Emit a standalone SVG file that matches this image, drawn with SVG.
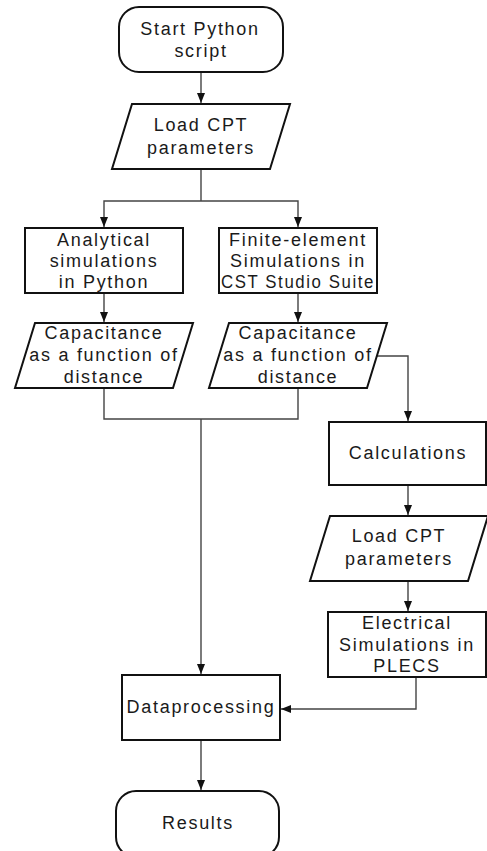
<svg xmlns="http://www.w3.org/2000/svg" width="487" height="851" viewBox="0 0 487 851">
<style>
.shape{fill:#fff;stroke:#111;stroke-width:2}
.conn{fill:none;stroke:#444;stroke-width:1.4}
text{font-family:"Liberation Sans",Arial,sans-serif;font-size:18px;letter-spacing:1.7px;fill:#1a1a1a;text-anchor:middle}
</style>
<defs>
<marker id="ah" markerUnits="userSpaceOnUse" markerWidth="10" markerHeight="8" refX="10" refY="4" orient="auto">
<path d="M0,0 L10,4 L0,8 z" fill="#111"/>
</marker>
</defs>
<rect width="487" height="851" fill="#fff"/>
<g id="connectors">
<path class="conn" d="M201,72 V103" marker-end="url(#ah)"/>
<path class="conn" d="M201,169 V201"/>
<path class="conn" d="M201,201 H104 V227" marker-end="url(#ah)"/>
<path class="conn" d="M201,201 H298 V227" marker-end="url(#ah)"/>
<path class="conn" d="M104,293 V322" marker-end="url(#ah)"/>
<path class="conn" d="M298,293 V322" marker-end="url(#ah)"/>
<path class="conn" d="M104,388 V419 H298 V388"/>
<path class="conn" d="M201,419 V674" marker-end="url(#ah)"/>
<path class="conn" d="M377,356 H408 V421" marker-end="url(#ah)"/>
<path class="conn" d="M408,485 V515" marker-end="url(#ah)"/>
<path class="conn" d="M408,581 V611" marker-end="url(#ah)"/>
<path class="conn" d="M416,677 V709 H281" marker-end="url(#ah)"/>
<path class="conn" d="M201,740 V790" marker-end="url(#ah)"/>
</g>
<g id="start">
<rect class="shape" x="119" y="7" width="164" height="65" rx="20"/>
<text x="200" y="35">Start Python</text>
<text x="201" y="57">script</text>
</g>
<g id="load1">
<polygon class="shape" points="132,104 290,104 270,169 112,169"/>
<text x="201" y="131">Load CPT</text>
<text x="201" y="154">parameters</text>
</g>
<g id="analytical">
<rect class="shape" x="25" y="228" width="158" height="65"/>
<text x="104" y="246">Analytical</text>
<text x="104" y="267">simulations</text>
<text x="104" y="288">in Python</text>
</g>
<g id="fem">
<rect class="shape" x="219" y="228" width="158" height="65"/>
<text x="298" y="246">Finite-element</text>
<text x="298" y="267">Simulations in</text>
<text x="298" y="288" textLength="154" lengthAdjust="spacingAndGlyphs">CST Studio Suite</text>
</g>
<g id="cap1">
<polygon class="shape" points="35,323 193,323 173,388 15,388"/>
<text x="104" y="339">Capacitance</text>
<text x="104" y="361">as a function of</text>
<text x="104" y="383">distance</text>
</g>
<g id="cap2">
<polygon class="shape" points="229,323 387,323 367,388 209,388"/>
<text x="298" y="339">Capacitance</text>
<text x="298" y="361">as a function of</text>
<text x="298" y="383">distance</text>
</g>
<g id="calculations">
<rect class="shape" x="329" y="422" width="157" height="63"/>
<text x="408" y="459">Calculations</text>
</g>
<g id="load2">
<polygon class="shape" points="330,516 488,516 468,581 310,581"/>
<text x="399" y="542">Load CPT</text>
<text x="399" y="565">parameters</text>
</g>
<g id="electrical">
<rect class="shape" x="328" y="612" width="158" height="65"/>
<text x="407" y="629">Electrical</text>
<text x="407" y="651">Simulations in</text>
<text x="407" y="672">PLECS</text>
</g>
<g id="dataprocessing">
<rect class="shape" x="122" y="675" width="158" height="65"/>
<text x="201" y="713">Dataprocessing</text>
</g>
<g id="results">
<rect class="shape" x="116" y="791" width="163" height="66" rx="20"/>
<text x="198" y="829">Results</text>
</g>
</svg>
